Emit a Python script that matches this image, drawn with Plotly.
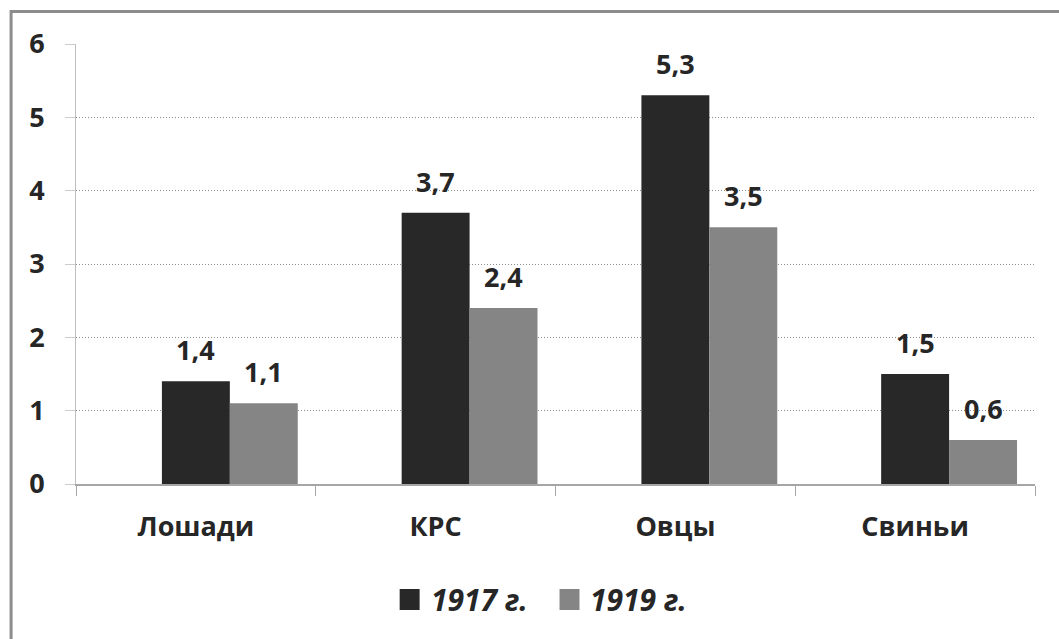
import plotly.graph_objects as go

categories = ["Лошади", "КРС", "Овцы", "Свиньи"]
values_1917 = [1.4, 3.7, 5.3, 1.5]
values_1919 = [1.1, 2.4, 3.5, 0.6]
labels_1917 = ["1,4", "3,7", "5,3", "1,5"]
labels_1919 = ["1,1", "2,4", "3,5", "0,6"]
series_names = ["1917 г.", "1919 г."]
y_ticks = [0, 1, 2, 3, 4, 5, 6]

FONT = "Open Sans"
C1 = "#282828"
C2 = "#858585"
TXT = "#262626"
FS = 27

BAR_W = 0.2833  # bar width in category units

fig = go.Figure()
fig.add_trace(go.Bar(x=categories, y=values_1917, name=series_names[0],
                     width=BAR_W, offset=-BAR_W / 2, showlegend=False,
                     marker=dict(color=C1, line=dict(width=0))))
fig.add_trace(go.Bar(x=categories, y=values_1919, name=series_names[1],
                     width=BAR_W, offset=BAR_W / 2, showlegend=False,
                     marker=dict(color=C2, line=dict(width=0))))

ann = []
for c, v, t in zip(categories, values_1917, labels_1917):
    ann.append(dict(x=c, y=v, text=f"<b>{t}</b>", xref="x", yref="y", xshift=0,
                    yshift=11, yanchor="bottom", showarrow=False,
                    font=dict(family=FONT, size=FS, color=TXT)))
for c, v, t in zip(categories, values_1919, labels_1919):
    ann.append(dict(x=c, y=v, text=f"<b>{t}</b>", xref="x", yref="y", xshift=68,
                    yshift=11, yanchor="bottom", showarrow=False,
                    font=dict(family=FONT, size=FS, color=TXT)))

# legend drawn as keys + text below the plot
legend_colors = [C1, C2]
legend_x = [0.3375, 0.5042]
shapes = [dict(type="rect", xref="paper", yref="paper",
               x0=-0.0677, x1=1.04, y0=-0.37, y1=1.074,
               line=dict(color="#8c8c8c", width=3), layer="below")]
for nm, col, lx in zip(series_names, legend_colors, legend_x):
    shapes.append(dict(type="rect", xref="paper", yref="paper",
                       x0=lx, x1=lx + 0.0208, y0=-0.2864, y1=-0.2386,
                       fillcolor=col, line=dict(width=0)))
    ann.append(dict(x=lx + 0.0302, y=-0.2625, xref="paper", yref="paper",
                    xanchor="left", yanchor="middle", showarrow=False,
                    text=f"<b><i>{nm}</i></b>",
                    font=dict(family=FONT, size=30, color=TXT)))

fig.update_layout(
    width=1059, height=639,
    margin=dict(l=76, r=24, t=44, b=155),
    paper_bgcolor="white", plot_bgcolor="white",
    barmode="overlay",
    font=dict(family=FONT, color=TXT),
    annotations=ann,
    showlegend=False,
    shapes=shapes,
)
fig.update_xaxes(showline=True, linecolor="#a6a6a6", linewidth=1.5,
                 ticks="outside", tickson="boundaries", ticklen=10, tickcolor="#a6a6a6",
                 tickfont=dict(family=FONT, size=FS, color=TXT, weight="bold"),
                 ticklabelstandoff=18, showgrid=False)
fig.update_yaxes(range=[0, 6], tickvals=y_ticks, showline=True, linecolor="#bfbfbf", linewidth=1,
                 showgrid=True, gridcolor="#8f8f8f", griddash="1px,2px", gridwidth=1,
                 ticks="outside", ticklen=10, tickcolor="#cccccc",
                 tickfont=dict(family=FONT, size=FS, color=TXT, weight="bold"),
                 ticklabelstandoff=15, zeroline=False)

fig.write_html("out.html", config={"displayModeBar": False},
               post_script="document.body.style.margin='0';")
